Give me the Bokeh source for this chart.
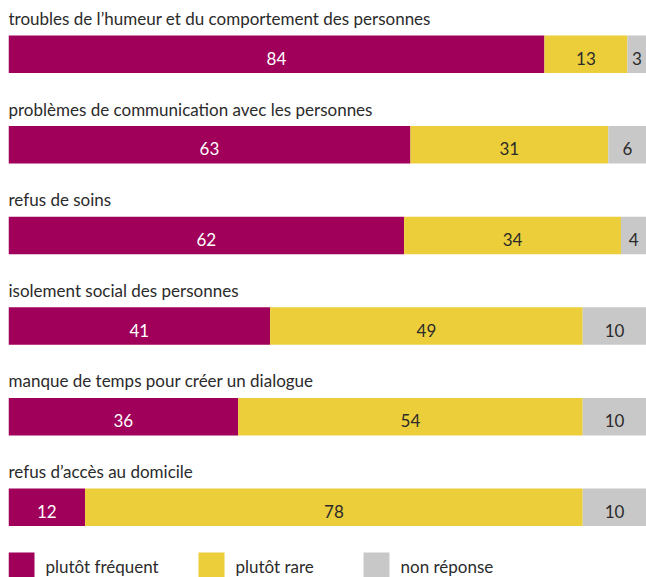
from bokeh.plotting import figure
from bokeh.models import Range1d, ColumnDataSource
from bokeh.core.properties import value
from bokeh.embed import file_html
from bokeh.resources import INLINE

categories = [
    "troubles de l\u2019humeur et du comportement des personnes",
    "probl\u00e8mes de communication avec les personnes",
    "refus de soins",
    "isolement social des personnes",
    "manque de temps pour cr\u00e9er un dialogue",
    "refus d\u2019acc\u00e8s au domicile",
]
frequent = [84, 63, 62, 41, 36, 12]
rare = [13, 31, 34, 49, 54, 78]
non_reponse = [3, 6, 4, 10, 10, 10]
series_names = ["plut\u00f4t fr\u00e9quent", "plut\u00f4t rare", "non r\u00e9ponse"]
colors = ["#A0005A", "#EBCE3A", "#C8C8C8"]
text_colors = ["#FFFFFF", "#2b2b2b", "#2b2b2b"]

W, H = 646, 577
LEFT = 8
FW = W - LEFT
p = figure(width=W, height=H, output_backend="svg", toolbar_location=None,
           x_range=Range1d(0, 100), y_range=Range1d(H, 0),
           min_border=0, min_border_left=LEFT, outline_line_color=None)
p.xaxis.visible = False
p.yaxis.visible = False
p.grid.visible = False
p.background_fill_color = "white"
p.border_fill_color = "white"

px = 100.0 / FW  # data units per pixel horizontally
row_gap = 90.6
bar_top0 = 35
bar_h = 37.5

n = len(categories)
tops = [bar_top0 + i * row_gap for i in range(n)]
centers = [t + bar_h / 2 for t in tops]

series = [frequent, rare, non_reponse]
lefts = [0] * n
for k, vals in enumerate(series):
    rights = [l + v for l, v in zip(lefts, vals)]
    src = ColumnDataSource(dict(y=centers, left=lefts, right=rights,
                                mid=[(l + r) / 2 for l, r in zip(lefts, rights)],
                                lab=[str(v) for v in vals],
                                ty=[c + 4 for c in centers]))
    p.hbar(y="y", left="left", right="right", height=bar_h, source=src,
           fill_color=colors[k], line_color=None)
    p.text(x="mid", y="ty", text="lab", source=src, text_align="center",
           text_baseline="alphabetic", text_color=text_colors[k],
           text_font=value("Lato"), text_font_size="17px")
    lefts = rights

# category labels above bars
lsrc = ColumnDataSource(dict(x=[0] * n, y=[t - 17 for t in tops], t=categories))
p.text(x="x", y="y", text="t", source=lsrc, text_align="left",
       text_baseline="alphabetic", text_color="#2b2b2b",
       text_font=value("Lato"), text_font_size="17px")

# legend
leg_x = [0, 190, 355]
sq_w, sq_h = 26, 25
sq_top = 552
p.rect(x=[(lx + sq_w / 2) * px for lx in leg_x], y=[sq_top + sq_h / 2] * 3,
       width=sq_w, height=sq_h, width_units="screen", height_units="screen",
       fill_color=colors, line_color=None)
p.text(x=[(lx + 37) * px for lx in leg_x], y=[566] * 3, text=series_names,
       text_align="left", text_baseline="alphabetic", text_color="#2b2b2b",
       text_font=value("Lato"), text_font_size="17px")

open("out.html", "w").write(file_html(p, INLINE))
